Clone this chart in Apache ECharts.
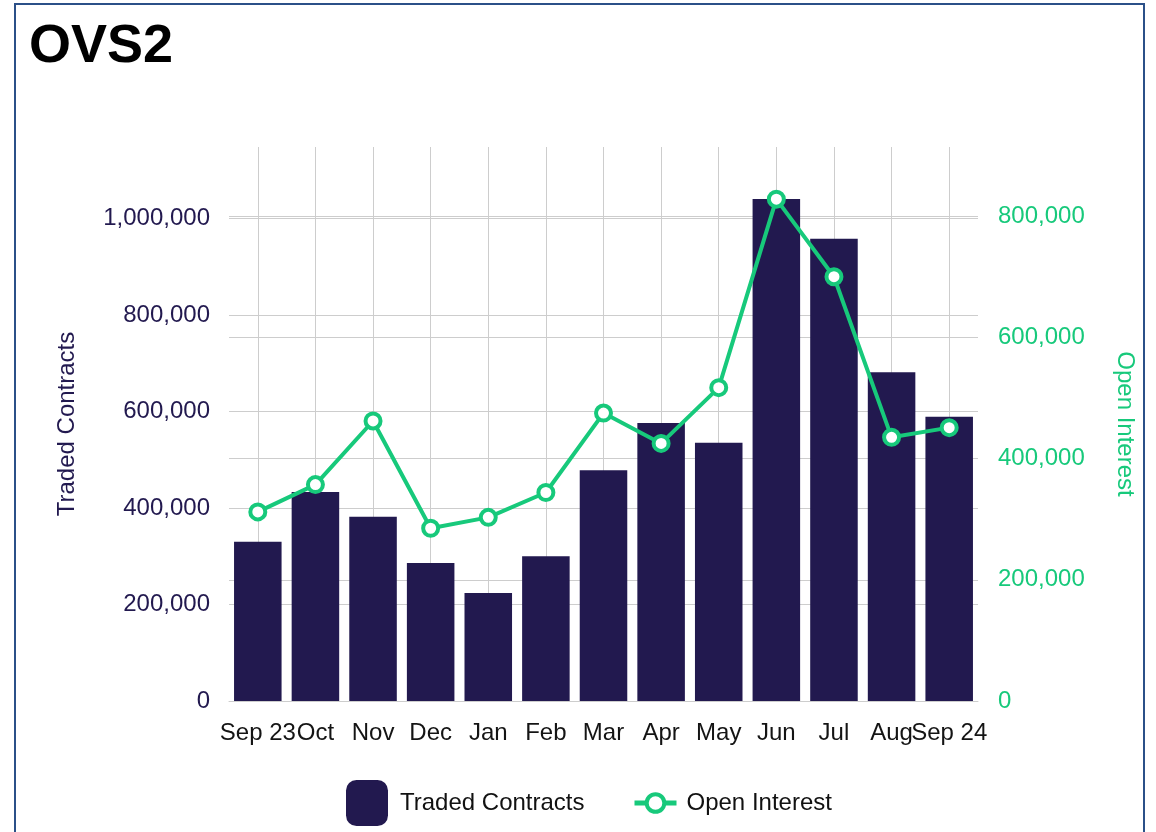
<!DOCTYPE html>
<html>
<head>
<meta charset="utf-8">
<script src="https://cdn.jsdelivr.net/npm/echarts@6/dist/echarts.min.js"></script>
<style>
  body { margin: 0; background: #fff; }
  #frame {
    position: absolute; left: 14px; top: 3px;
    width: 1127px; height: 900px;
    border: 2px solid #2b5088;
  }
  #main { position: absolute; left: 0; top: 0; width: 1156px; height: 832px; }
</style>
</head>
<body>
<div id="frame"></div>
<div id="main"></div>
<script>
// values
const months = ['Sep 23', 'Oct', 'Nov', 'Dec', 'Jan', 'Feb', 'Mar', 'Apr', 'May', 'Jun', 'Jul', 'Aug', 'Sep 24'];
const tradedContracts = [330000, 433000, 382000, 286000, 224000, 300000, 478000, 576000, 535000, 1040000, 958000, 681000, 589000];
const openInterest = [312000, 357000, 462000, 285000, 303000, 344000, 475000, 425000, 517000, 828000, 700000, 435000, 451000];
const tickStep = 200000;
const leftMax = 1148000;
const rightMax = 914000;

const navy = '#22194f';
const green = '#17c97b';
const gridGrey = '#cdcdcd';
const font = 'Liberation Sans';

var chart = echarts.init(document.getElementById('main'), null, { renderer: 'canvas' });

var option = {
  animation: false,
  title: {
    text: 'OVS2',
    left: 24,
    top: 15,
    textStyle: { fontFamily: font, fontSize: 54, fontWeight: 'bold', color: '#000' }
  },
  grid: { left: 229, right: 178, top: 147, bottom: 131 },
  legend: [
    {
      data: ['Traded Contracts'],
      left: 341,
      top: 775,
      icon: 'roundRect',
      itemWidth: 42,
      itemHeight: 46,
      textStyle: { fontFamily: font, fontSize: 24, color: '#111', padding: [0, 0, 0, 7] }
    },
    {
      data: ['Open Interest'],
      left: 627,
      top: 786,
      itemWidth: 42,
      itemHeight: 22,
      lineStyle: { width: 5 },
      itemStyle: { borderWidth: 4 },
      textStyle: { fontFamily: font, fontSize: 24, color: '#111', padding: [0, 0, 0, 5] }
    }
  ],
  xAxis: {
    type: 'category',
    data: months,
    axisLine: { lineStyle: { color: gridGrey } },
    axisTick: { show: false },
    axisLabel: { interval: 0, margin: 20, fontFamily: font, fontSize: 24, color: '#141414' },
    // vertical lines run through the bar centres
    splitLine: { show: true, alignWithLabel: true, lineStyle: { color: gridGrey } }
  },
  yAxis: [
    {
      type: 'value',
      min: 0,
      max: leftMax,
      interval: tickStep,
      name: 'Traded Contracts',
      nameLocation: 'middle',
      nameGap: 150,
      nameTextStyle: { fontFamily: font, fontSize: 24, color: navy },
      axisLine: { show: false },
      axisTick: { show: false },
      axisLabel: { margin: 19, showMaxLabel: false, fontFamily: font, fontSize: 24, color: navy },
      splitLine: { show: true, showMaxLine: false, lineStyle: { color: gridGrey } }
    },
    {
      type: 'value',
      min: 0,
      max: rightMax,
      interval: tickStep,
      name: 'Open Interest',
      nameLocation: 'middle',
      nameRotate: -90,
      nameGap: 135,
      nameTextStyle: { fontFamily: font, fontSize: 24, color: green },
      axisLine: { show: false },
      axisTick: { show: false },
      axisLabel: { margin: 20, showMaxLabel: false, fontFamily: font, fontSize: 24, color: green },
      splitLine: { show: true, showMaxLine: false, lineStyle: { color: gridGrey } }
    }
  ],
  series: [
    {
      name: 'Traded Contracts',
      type: 'bar',
      yAxisIndex: 0,
      data: tradedContracts,
      barCategoryGap: '17.5%',
      itemStyle: { color: navy }
    },
    {
      name: 'Open Interest',
      type: 'line',
      yAxisIndex: 1,
      data: openInterest,
      z: 5,
      symbol: 'circle',
      symbolSize: 15,
      lineStyle: { color: green, width: 4 },
      itemStyle: { color: '#fff', borderColor: green, borderWidth: 4 }
    }
  ]
};

chart.setOption(option);
</script>
</body>
</html>
